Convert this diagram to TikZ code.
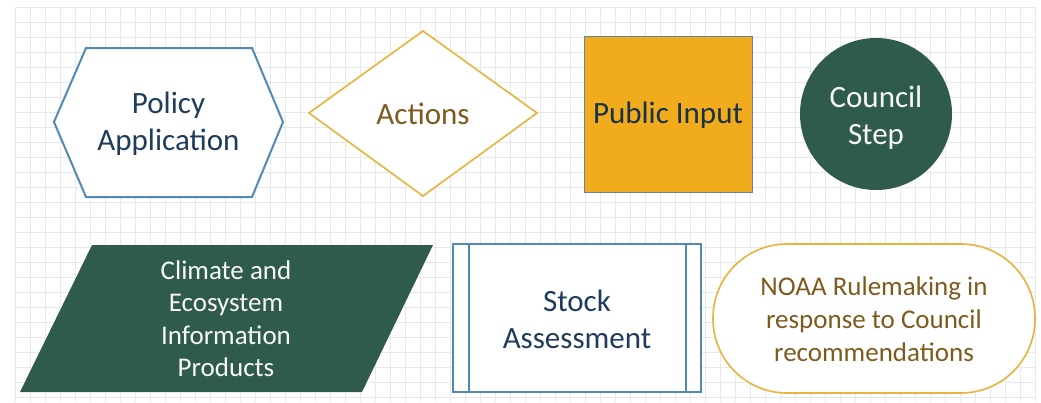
\documentclass[tikz,border=0pt]{standalone}
\usepackage{fontspec}
\setmainfont{Carlito}

\definecolor{lineblue}{HTML}{5189B3}
\definecolor{navytext}{HTML}{1F3D5A}
\definecolor{goldline}{HTML}{E8B23C}
\definecolor{browntext}{HTML}{7D5B1E}
\definecolor{orangefill}{HTML}{F0AC1C}
\definecolor{darkgreen}{HTML}{2F5B4B}
\definecolor{gridgray}{HTML}{E8E8E8}

\tikzset{
    shapetext/.style={align=center,font=\fontsize{31}{37}\selectfont},
    smalltext/.style={align=center,font=\fontsize{27}{33}\selectfont},
    bluetext/.style={shapetext,text=navytext},
    browntxt/.style={text=browntext},
    whitetext/.style={text=white!94!gray}
}

\begin{document}
\begin{tikzpicture}[x=1pt,y=-1pt]

    % fix the page size
    \useasboundingbox (0,0) rectangle (1041,402);
    \fill[white] (0,0) rectangle (1041,402);

    % draw grid
    \draw[xstep=15pt, ystep=15pt, gridgray, line width=0.8pt, shift={(15,7)}] (0,0) grid (1020,395);

    % hexagon
    \draw[lineblue, line width=2pt, fill=white] (54,122) -- (86,48) -- (252,48) -- (283,122) -- (252,197) -- (86,197) -- cycle;
    \node[bluetext] (policy) at (168.5,124) {Policy\\Application};

    % diamond
    \draw[goldline, line width=1.6pt, fill=white] (423,31) -- (537,113) -- (423,196) -- (309,113) -- cycle;
    \node[shapetext, browntxt] (actions) at (423,114) {Actions};

    % square
    \draw[lineblue!70!gray, line width=1pt, fill=orangefill] (584,36) rectangle (752,192);
    \node[shapetext, text=navytext!80!black] (public) at (668,115) {Public Input};

    % circle
    \fill[darkgreen] (876,114) circle (76);
    \node[shapetext, whitetext] (council) at (876,118) {Council\\Step};

    % parallelogram
    \fill[darkgreen] (92,245) -- (433,245) -- (362,392) -- (20,392) -- cycle;
    \node[smalltext, whitetext, font=\fontsize{27}{32.5}\selectfont] (climate) at (226,318.5) {Climate and\\Ecosystem\\Information\\Products};

    % predefined process box
    \draw[lineblue, line width=1.5pt, fill=white] (453,244) rectangle (701,392);
    \draw[lineblue, line width=1.5pt] (469,244) -- (469,392);
    \draw[lineblue, line width=1.5pt] (686,244) -- (686,392);
    \node[bluetext] (stock) at (577,319.5) {Stock\\Assessment};

    % stadium
    \draw[goldline, line width=1.6pt, fill=white, rounded corners=74pt] (713,244) rectangle (1035,393);
    \node[smalltext, browntxt] (noaa) at (874,319) {NOAA Rulemaking in\\response to Council\\recommendations};

\end{tikzpicture}
\end{document}
